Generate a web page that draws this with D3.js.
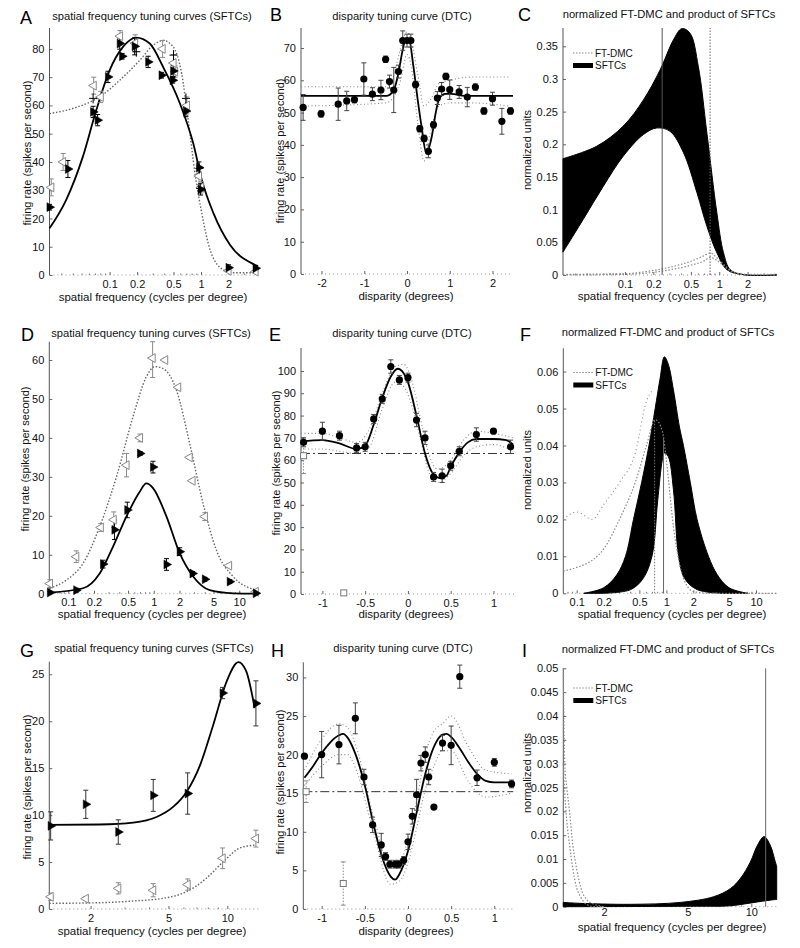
<!DOCTYPE html>
<html><head><meta charset="utf-8">
<script src="https://cdn.jsdelivr.net/npm/d3@7"></script>
<style>body{margin:0;background:#fff}</style>
</head><body><svg id="c" width="800" height="948"></svg>
<script>
// ===================== DATA =====================
// ---- Panel A ----
const aTitle = "spatial frequency tuning curves (SFTCs)";
const aXTicks = [0.1, 0.2, 0.5, 1, 2];
const aYTicks = [0, 10, 20, 30, 40, 50, 60, 70, 80];
const aFitX = [0.022, 0.0334, 0.0509, 0.0714, 0.1, 0.14, 0.196, 0.275, 0.385, 0.588, 0.823, 1.02, 1.37, 2.08, 3.92, 4.2];
const aFitY = [16.5, 26.5, 41.8, 58.3, 72.4, 80.7, 84, 81.9, 73.6, 60.7, 46.5, 33.6, 21.8, 10.6, 3.5, 3.0];
const aDotX = [0.022, 0.043, 0.0777, 0.129, 0.214, 0.3, 0.385, 0.496, 0.614, 0.725, 0.859, 1.02, 1.26, 1.76, 2.26, 3.95];
const aDotY = [57.1, 59.3, 63, 68.9, 76, 81.3, 83, 80.7, 71.3, 54.8, 35.9, 21.8, 8.8, 1.8, 0.8, 0.8];
const aFilledX = [0.022, 0.035, 0.066, 0.074, 0.096, 0.129, 0.137, 0.188, 0.264, 0.37, 0.49, 0.496, 0.684, 0.95, 0.99, 2.0, 3.95];
const aFilledY = [24, 37.5, 57.7, 54.8, 70.1, 81.9, 77.4, 80.9, 75.4, 70.7, 68.9, 72.2, 58, 38, 30.3, 2.6, 2.4];
const aFilledE = [1, 3, 2, 2, 2, 2, 1, 3, 2, 1, 1, 2, 2, 2, 2, 1, 1];
const aOpenX = [0.023, 0.031, 0.067, 0.08, 0.13, 0.19, 0.38, 0.5, 0.52, 0.7, 0.95, 1.0, 2.0, 3.95];
const aOpenY = [31, 40, 67, 63, 84.5, 82, 80, 75, 72, 60, 35, 31, 1.5, 1.2];
const aOpenE = [3, 3, 3, 2, 2, 3, 3, 3, 2, 3, 3, 2, 0.5, 0.5];
const aCrossX = [0.066, 0.196, 0.5, 0.684, 0.96, 0.98];
const aCrossY = [62.5, 79, 77.8, 62.5, 37.7, 30.6];

// ---- Panel B ----
const bTitle = "disparity tuning curve (DTC)";
const bXTicks = [-2, -1, 0, 1, 2];
const bYTicks = [0, 10, 20, 30, 40, 50, 60, 70];
const bX = [-2.43, -2.01, -1.61, -1.41, -1.23, -1.01, -0.81, -0.61, -0.5, -0.41, -0.31, -0.2, -0.1, 0, 0.09, 0.2, 0.3, 0.4, 0.5, 0.62, 0.71, 0.81, 0.91, 1.0, 1.22, 1.41, 1.6, 1.8, 2.0, 2.22, 2.42];
const bY = [51.6, 49.6, 52.6, 53.6, 54, 60.4, 55.7, 57, 66.5, 59.6, 57, 62.7, 72.3, 72.3, 72.3, 58.7, 45, 42, 38, 46.2, 54.5, 57.3, 61.2, 57.1, 56.4, 54.8, 57.9, 50.5, 54.3, 47.3, 50.5];
const bE = [4, 1, 5, 3, 1, 5, 2, 3, 1, 2, 7, 2, 3, 2, 2, 1, 1, 1, 2, 1, 2, 2, 1, 3, 2, 3, 1, 1, 2, 4, 1];
const bFitX = [-2.48, -0.47, -0.31, -0.2, -0.1, -0.03, 0.05, 0.15, 0.25, 0.34, 0.45, 0.58, 0.67, 0.76, 0.89, 1.04, 1.35, 2.48];
const bFitY = [55.2, 55.2, 57, 62.2, 69.5, 72.6, 72.4, 64.3, 54, 45.7, 37.5, 42.6, 49.8, 54.5, 55.8, 55.8, 55.2, 55.2];
const bEnvX = [-2.48, -0.5, -0.3, -0.15, 0, 0.1, 0.25, 0.4, 0.55, 0.75, 1.0, 1.5, 2.4];
const bEnvHi = [58, 58, 62, 70, 75, 72, 62, 52, 54, 59, 60, 61, 61];
const bEnvLo = [52, 53, 55, 60, 68, 64, 47, 35, 44, 52, 53, 53, 52];

// ---- Panel C ----
const cTitle = "normalized FT-DMC and product of SFTCs";
const cXTicks = [0.1, 0.2, 0.5, 1, 2];
const cYTicks = [0, 0.05, 0.1, 0.15, 0.2, 0.25, 0.3, 0.35];
const cUpX = [0.022, 0.05, 0.096, 0.157, 0.236, 0.327, 0.4, 0.49, 0.6, 0.74, 0.944, 1.11, 1.31, 1.82, 4.1];
const cUpY = [0.178, 0.197, 0.228, 0.268, 0.314, 0.36, 0.377, 0.37, 0.319, 0.217, 0.095, 0.034, 0.008, 0.0005, 0];
const cLoX = [0.022, 0.036, 0.059, 0.096, 0.157, 0.217, 0.3, 0.418, 0.58, 0.74, 0.944, 1.21, 1.82, 4.1];
const cLoY = [0.035, 0.085, 0.136, 0.182, 0.215, 0.225, 0.22, 0.187, 0.126, 0.0745, 0.034, 0.008, 0.0005, 0];
const cDmcX = [0.022, 0.1, 0.2, 0.3, 0.5, 0.7, 0.8, 0.95, 1.2, 1.5, 2, 4.1];
const cDmcHi = [0.001, 0.002, 0.007, 0.012, 0.021, 0.03, 0.034, 0.026, 0.012, 0.003, 0.001, 0.001];
const cDmcLo = [0, 0.001, 0.004, 0.008, 0.015, 0.022, 0.027, 0.022, 0.01, 0.002, 0, 0];
const cSolidV = 0.248, cDotV = 0.80;

// ---- Panel D ----
const dXTicks = [0.1, 0.2, 0.5, 1, 2, 5, 10];
const dYTicks = [0, 10, 20, 30, 40, 50, 60];
const dFitX = [0.061, 0.149, 0.233, 0.334, 0.478, 0.685, 0.82, 0.98, 1.41, 2.01, 2.89, 4.52, 8.47, 16];
const dFitY = [0.3, 1.4, 5.2, 12.1, 19.8, 26.2, 28.3, 27.1, 19.8, 10.4, 4.4, 0.9, 0.1, 0];
const dDotX = [0.061, 0.095, 0.149, 0.233, 0.366, 0.573, 0.82, 1.03, 1.29, 1.84, 2.63, 3.77, 5.4, 8.47, 16];
const dDotY = [1.4, 3.5, 7.8, 17.2, 30, 45.5, 55.7, 58.3, 57.8, 52.3, 38.6, 23.2, 11.2, 4.4, 0.9];
const dFilledX = [0.061, 0.124, 0.255, 0.347, 0.49, 0.69, 0.98, 1.41, 2.01, 2.84, 3.96, 7.74, 15.6];
const dFilledY = [0.3, 0.9, 7.6, 16.4, 21.5, 36, 32.5, 7.5, 10.8, 5.2, 3.7, 3.1, 0.1];
const dFilledE = [0.3, 0.5, 1, 2.5, 2, 0.5, 1.5, 1.5, 1, 0.5, 0.5, 0.5, 0.2];
const dOpenX = [0.061, 0.124, 0.24, 0.34, 0.48, 0.69, 0.97, 1.36, 1.93, 2.63, 2.84, 3.96, 7.6, 15.6];
const dOpenY = [2.6, 9.5, 17, 19, 33, 40, 60.5, 60, 53, 35, 29, 19.8, 7.2, 0.5];
const dOpenE = [1, 1.5, 1, 2, 3, 1, 5, 0.5, 0.5, 0.5, 0.5, 1, 0.5, 0.5];

// ---- Panel E ----
const eXTicks = [-1, -0.5, 0, 0.5, 1];
const eYTicks = [0, 10, 20, 30, 40, 50, 60, 70, 80, 90, 100];
const eX = [-1.22, -1.0, -0.8, -0.6, -0.5, -0.4, -0.3, -0.2, -0.1, 0, 0.1, 0.2, 0.3, 0.4, 0.5, 0.6, 0.8, 1.0, 1.2];
const eY = [68, 73, 71, 65.5, 66, 78.5, 87.5, 102, 96, 97, 78, 70, 52.5, 53, 57.5, 64, 71.5, 73, 66];
const eE = [2, 4, 2, 2, 2, 2, 2, 3, 2, 2, 3, 3, 2, 3, 2, 2, 3, 1, 3];
const eFitX = [-1.25, -1.0, -0.8, -0.6, -0.5, -0.4, -0.3, -0.2, -0.12, -0.05, 0, 0.1, 0.2, 0.3, 0.37, 0.45, 0.5, 0.6, 0.7, 0.8, 1.0, 1.15, 1.23];
const eFitY = [68.5, 69, 67.5, 65, 66.5, 76, 88, 97.5, 101, 99, 95, 80, 63, 53.5, 52, 53, 57, 63.5, 68, 69.5, 69.5, 69, 67];
const eEnvX = [-1.25, -1.0, -0.8, -0.6, -0.45, -0.3, -0.15, -0.05, 0.05, 0.15, 0.25, 0.35, 0.5, 0.65, 0.8, 1.0, 1.23];
const eEnvHi = [72, 72, 70, 68, 74, 90, 102, 103, 95, 78, 62, 56, 60, 69, 73, 72, 70];
const eEnvLo = [65, 65, 64, 63, 66, 83, 95, 93, 84, 69, 54, 50, 54, 62, 66, 67, 64];
const eBase = 63;
const eOpenX = [-1.22, -0.75];
const eOpenY = [62, 0.5];
const eOpenE = [8, 0];

// ---- Panel F ----
const fXTicks = [0.1, 0.2, 0.5, 1, 2, 5, 10];
const fYTicks = [0, 0.01, 0.02, 0.03, 0.04, 0.05, 0.06];
const fUpX = [0.12, 0.2, 0.28, 0.35, 0.43, 0.53, 0.64, 0.75, 0.85, 0.95, 1.05, 1.2, 1.4, 1.55, 1.85, 2.2, 2.95, 3.7, 5, 8];
const fUpY = [0, 0.0015, 0.005, 0.01, 0.02, 0.03, 0.04, 0.05, 0.058, 0.064, 0.062, 0.055, 0.045, 0.04, 0.03, 0.02, 0.01, 0.005, 0.0015, 0];
const fLoX = [0.2, 0.4, 0.55, 0.69, 0.8, 0.9, 0.95, 1.05, 1.2, 1.37, 1.6, 2.2, 4];
const fLoY = [0, 0.001, 0.004, 0.01, 0.025, 0.036, 0.038, 0.037, 0.028, 0.01, 0.004, 0.001, 0];
const fDmcX = [0.071, 0.1, 0.15, 0.2, 0.3, 0.45, 0.6, 0.75, 0.9, 1.0, 1.2, 1.4, 1.7, 2.0, 3, 17];
const fDmcY = [0.006, 0.007, 0.009, 0.012, 0.02, 0.03, 0.04, 0.047, 0.044, 0.036, 0.018, 0.008, 0.002, 0.0005, 0, 0];
const fCloudX = [0.071, 0.1, 0.15, 0.2, 0.3, 0.45, 0.6, 0.7];
const fCloudY = [0.02, 0.022, 0.02, 0.024, 0.03, 0.038, 0.052, 0.055];
const fDotV = 0.74, fSolidV = 0.93;

// ---- Panel G ----
const gXTicks = [2, 5, 10];
const gYTicks = [0, 5, 10, 15, 20, 25];
const gFitX = [1.23, 2.23, 3.3, 4.35, 5.3, 6.2, 7.25, 8.47, 9.9, 11.4, 12.5, 13.8];
const gFitY = [8.95, 9.0, 9.2, 9.8, 10.9, 12.5, 15.3, 19.6, 24.2, 26.3, 25.3, 21.4];
const gDotX = [1.23, 2.23, 3.3, 4.9, 6.2, 7.84, 9.5, 11.6, 13.8];
const gDotY = [0.6, 0.67, 0.85, 1.2, 1.85, 3.3, 5.0, 6.5, 6.8];
const gFilledX = [1.25, 1.89, 2.77, 4.18, 6.27, 9.46, 14.0];
const gFilledY = [8.85, 11.15, 8.2, 12.1, 12.3, 23, 21.9];
const gFilledE = [1.5, 1.5, 1.3, 1.7, 2.2, 0.6, 2.4];
const gOpenX = [1.25, 1.89, 2.77, 4.18, 6.27, 9.46, 14.0];
const gOpenY = [1.3, 1.1, 2.2, 2.0, 2.6, 5.4, 7.5];
const gOpenE = [0.4, 0.2, 0.6, 0.7, 0.6, 1.1, 0.9];

// ---- Panel H ----
const hXTicks = [-1, -0.5, 0, 0.5, 1];
const hYTicks = [0, 5, 10, 15, 20, 25, 30];
const hX = [-1.2, -1.0, -0.8, -0.61, -0.51, -0.41, -0.31, -0.26, -0.21, -0.15, -0.11, -0.05, 0.0, 0.05, 0.1, 0.15, 0.2, 0.24, 0.3, 0.4, 0.5, 0.6, 0.8, 1.0, 1.2];
const hY = [19.8, 20, 21.3, 24.7, 17.1, 10.9, 8.3, 6.8, 5.8, 5.8, 5.8, 6.3, 8.7, 12, 14.8, 18.9, 20, 17.1, 13.2, 21.5, 21.2, 30.1, 17, 19, 16.2];
const hE = [0, 3, 2.5, 2, 1, 1, 1.5, 0.5, 0.5, 0.5, 0.5, 0.5, 1, 1, 2, 1, 1, 1, 0, 1, 2.5, 1.5, 1, 0.5, 0.5];
const hFitX = [-1.2, -1.1, -1.0, -0.9, -0.8, -0.75, -0.7, -0.6, -0.5, -0.4, -0.3, -0.2, -0.15, -0.1, 0, 0.1, 0.2, 0.3, 0.4, 0.45, 0.5, 0.6, 0.7, 0.8, 0.9, 1.0, 1.2];
const hFitY = [17, 18.5, 20.2, 21.6, 22.5, 22.7, 22.2, 19.8, 16, 11, 6.7, 4.2, 3.8, 4.5, 7.5, 12.5, 17.5, 21, 22.6, 22.7, 22.3, 20.8, 19, 17.5, 16.6, 16.4, 16.4];
const hEnvX = [-1.2, -1.0, -0.8, -0.7, -0.6, -0.4, -0.2, -0.1, 0, 0.1, 0.2, 0.3, 0.4, 0.5, 0.7, 0.9, 1.2];
const hEnvHi = [18, 22, 24, 23.5, 21, 12, 5.5, 6, 9, 14, 20, 23, 24, 25, 21, 18, 17.5];
const hEnvLo = [16, 18.5, 20, 20, 18, 10, 3.2, 3.6, 6, 10.5, 15.5, 18.5, 20.5, 20.5, 16.5, 14.5, 15];
const hBase = 15.2;
const hOpenX = [-1.18, -0.75];
const hOpenY = [15.2, 3.3];
const hOpenE = [1.4, 2.8];

// ---- Panel I ----
const iXTicks = [2, 5, 10];
const iYTicks = [0, 0.005, 0.01, 0.015, 0.02, 0.025, 0.03, 0.035, 0.04, 0.045, 0.05];
const iUpX = [1.28, 1.55, 2.66, 4.6, 6.63, 7.96, 8.9, 9.9, 10.7, 11.5, 12.3, 13.0, 13.2];
const iUpY = [0.0009, 0.0007, 0.0005, 0.0009, 0.0021, 0.0038, 0.006, 0.0094, 0.0129, 0.0147, 0.0129, 0.0094, 0.0085];
const iLoX = [1.28, 5.5, 7.96, 10.7, 13.0, 13.2];
const iLoY = [0, 0.0001, 0.0002, 0.001, 0.0015, 0.0015];
const iDmcX = [1.28, 1.3, 1.33, 1.37, 1.42, 1.48, 1.55, 1.65, 1.8, 2.0];
const iDmcHi = [0.05, 0.03, 0.025, 0.02, 0.013, 0.008, 0.004, 0.0015, 0.0005, 0];
const iDmcLo = [0.03, 0.024, 0.018, 0.013, 0.008, 0.004, 0.002, 0.0005, 0, 0];
const iSolidV = 11.7;

// ===================== DRAWING =====================
const FONT = "'Liberation Sans', Arial, Helvetica, sans-serif";
const svg = d3.select('#c').style('font-family', FONT);
const zip = (a, b) => a.map((v, i) => [v, b[i]]);
const GRAY = '#8a8a8a';

const layout = {
  A:{l:49.5,r:258,t:28,b:275,log:true,xd:[0.022,4.2],yd:[0,87.4],xt:aXTicks,yt:aYTicks,pad:5,
     letter:[20,24],title:[152,20,aTitle],xl:[153,301,"spatial frequency (cycles per degree)"],yl:[27,153,"firing rate (spikes per second)"]},
  B:{l:301,r:513,t:28,b:274,log:false,xd:[-2.48,2.48],yd:[0,76.2],xt:bXTicks,yt:bYTicks,pad:5,
     letter:[270,21],title:[402,20,bTitle],xl:[406,300,"disparity (degrees)"],yl:[280,151,"firing rate (spikes per second)"]},
  C:{l:563,r:777,t:28,b:275,log:true,xd:[0.022,4.1],yd:[0,0.378],xt:cXTicks,yt:cYTicks,pad:5,
     letter:[518,21],title:[669,18,cTitle],xl:[672,300,"spatial frequency (cycles per degree)"],yl:[527,150,"normalized units"]},
  D:{l:49.3,r:256.7,t:341.7,b:593.7,log:true,xd:[0.06,16],yd:[0,64.7],xt:dXTicks,yt:dYTicks,pad:5,
     letter:[21,341],title:[151,337,aTitle],xl:[152,618,"spatial frequency (cycles per degree)"],yl:[25,459,"firing rate (spikes per second)"]},
  E:{l:301,r:514,t:348,b:594,log:false,xd:[-1.25,1.24],yd:[0,110.3],xt:eXTicks,yt:eYTicks,pad:5,
     letter:[269,341],title:[402,337,bTitle],xl:[406,618,"disparity (degrees)"],yl:[276,463,"firing rate (spikes per second)"]},
  F:{l:563.3,r:776.7,t:348.3,b:593.3,log:true,xd:[0.0709,17],yd:[0,0.0663],xt:fXTicks,yt:fYTicks,pad:5,
     letter:[520,341],title:[668,336,cTitle],xl:[672,618,"spatial frequency (cycles per degree)"],yl:[527,470,"normalized units"]},
  G:{l:49.3,r:258.3,t:661.7,b:909,log:true,xd:[1.23,14.4],yd:[0,26.34],xt:gXTicks,yt:gYTicks,pad:5,
     letter:[20,657],title:[154,652,aTitle],xl:[152,935,"spatial frequency (cycles per degree)"],yl:[27,787,"firing rate (spikes per second)"]},
  H:{l:303.3,r:513.3,t:662.3,b:909,log:false,xd:[-1.213,1.22],yd:[0,31.96],xt:hXTicks,yt:hYTicks,pad:5,
     letter:[271,657],title:[403,652,bTitle],xl:[406,935,"disparity (degrees)"],yl:[280,782,"firing rate (spikes per second)"]},
  I:{l:563.3,r:776.7,t:668.3,b:906.7,log:true,xd:[1.28,13.2],yd:[0,0.05],xt:iXTicks,yt:iYTicks,pad:1,
     letter:[522,657],title:[668,653,cTitle],xl:[672,931,"spatial frequency (cycles per degree)"],yl:[527,773,"normalized units"]}
};

function setup(key){
  const p = layout[key];
  const g = svg.append('g');
  const x = (p.log ? d3.scaleLog() : d3.scaleLinear()).domain(p.xd).range([p.l, p.r]);
  const y = d3.scaleLinear().domain(p.yd).range([p.b, p.t]);
  g.append('line').attr('x1',p.l).attr('x2',p.r).attr('y1',p.b).attr('y2',p.b)
    .attr('stroke','#999').attr('stroke-width',1).attr('stroke-dasharray','1,3');
  const yg = g.append('g').attr('transform',`translate(${p.l},0)`)
    .call(d3.axisLeft(y).tickValues(p.yt).tickSize(-3).tickPadding(5).tickFormat(d=>String(d)));
  yg.select('.domain').remove();
  yg.selectAll('.tick line').attr('stroke','#666');
  yg.selectAll('text').attr('font-size',11).attr('fill','#111').attr('font-family',FONT);
  g.append('line').attr('x1',p.l).attr('x2',p.l).attr('y1',p.t).attr('y2',p.b).attr('stroke','#555').attr('stroke-width',1);
  const xg = g.append('g').attr('transform',`translate(0,${p.b})`)
    .call(d3.axisBottom(x).tickValues(p.xt).tickSize(-3).tickPadding(p.pad).tickFormat(d=>String(d)));
  xg.select('.domain').remove();
  xg.selectAll('.tick line').attr('stroke','#666');
  xg.selectAll('text').attr('font-size',11).attr('fill','#111').attr('font-family',FONT);
  if (p.log){
    const minor = x.ticks().filter(v => p.xt.indexOf(v) < 0);
    g.selectAll(null).data(minor).enter().append('line')
      .attr('x1',d=>x(d)).attr('x2',d=>x(d)).attr('y1',p.b).attr('y2',p.b-1.5)
      .attr('stroke','#777').attr('stroke-width',1);
  }
  svg.append('text').attr('x',p.letter[0]).attr('y',p.letter[1]).attr('font-size',18).attr('fill','#000').text(key);
  svg.append('text').attr('x',p.title[0]).attr('y',p.title[1]).attr('font-size',11.2).attr('text-anchor','middle').attr('fill','#111').text(p.title[2]);
  svg.append('text').attr('x',p.xl[0]).attr('y',p.xl[1]).attr('font-size',11.5).attr('text-anchor','middle').attr('fill','#111').text(p.xl[2]);
  svg.append('text').attr('transform',`translate(${p.yl[0]},${p.yl[1]}) rotate(-90)`).attr('font-size',11)
    .attr('text-anchor','middle').attr('dy','0.35em').attr('fill','#111').text(p.yl[2]);
  return {g, x, y, p};
}

function curve(P, xs, ys, opt){
  const ln = d3.line().x(d=>P.x(d[0])).y(d=>P.y(d[1])).curve(opt.curve || d3.curveMonotoneX);
  P.g.append('path').attr('d', ln(zip(xs, ys))).attr('fill','none')
    .attr('stroke', opt.color || '#000').attr('stroke-width', opt.w || 1.8)
    .attr('stroke-dasharray', opt.dash || null).attr('stroke-linejoin','round');
}
function band(P, ux, uy, lx, ly){
  const ln = d3.line().x(d=>P.x(d[0])).y(d=>P.y(d[1])).curve(d3.curveCatmullRom.alpha(0.5));
  const up = ln(zip(ux, uy));
  const lo = ln(zip(lx, ly).reverse());
  P.g.append('path').attr('d', up + 'L' + lo.slice(1) + 'Z').attr('fill','#000').attr('stroke','#000').attr('stroke-width',1);
}
function errbars(P, xs, ys, es, color, dash){
  xs.forEach((xv, i) => {
    if (!es[i]) return;
    const cx = P.x(xv), y1 = P.y(Math.max(P.p.yd[0], ys[i]-es[i])), y2 = P.y(Math.min(P.p.yd[1], ys[i]+es[i]));
    P.g.append('line').attr('x1',cx).attr('x2',cx).attr('y1',y1).attr('y2',y2)
      .attr('stroke',color).attr('stroke-width',1).attr('stroke-dasharray',dash||null);
    [y1, y2].forEach(yy => P.g.append('line').attr('x1',cx-2.5).attr('x2',cx+2.5).attr('y1',yy).attr('y2',yy)
      .attr('stroke',color).attr('stroke-width',1));
  });
}
const tri = d3.symbol().type(d3.symbolTriangle).size(34);
function triangles(P, xs, ys, filled){
  P.g.selectAll(null).data(zip(xs, ys)).enter().append('path').attr('d', tri())
    .attr('transform', d => `translate(${P.x(d[0])},${P.y(d[1])}) rotate(${filled ? 90 : -90})`)
    .attr('fill', filled ? '#000' : '#fff').attr('stroke', filled ? '#000' : GRAY).attr('stroke-width', filled ? 0.5 : 1);
}
function squares(P, xs, ys){
  P.g.selectAll(null).data(zip(xs, ys)).enter().append('rect')
    .attr('x', d=>P.x(d[0])-3).attr('y', d=>P.y(d[1])-3).attr('width',6).attr('height',6)
    .attr('fill','#fff').attr('stroke','#777').attr('stroke-width',1);
}
function dots(P, xs, ys){
  P.g.selectAll(null).data(zip(xs, ys)).enter().append('circle')
    .attr('cx', d=>P.x(d[0])).attr('cy', d=>P.y(d[1])).attr('r', 3.6).attr('fill','#000');
}
function crosses(P, xs, ys){
  zip(xs, ys).forEach(d => {
    const cx = P.x(d[0]), cy = P.y(d[1]);
    P.g.append('path').attr('d', `M${cx-4},${cy}H${cx+4}M${cx},${cy-5}V${cy+5}`).attr('stroke','#000').attr('stroke-width',1);
  });
}
function hline(P, yv, dash, color){
  P.g.append('line').attr('x1',P.p.l).attr('x2',P.p.r).attr('y1',P.y(yv)).attr('y2',P.y(yv))
    .attr('stroke',color||'#333').attr('stroke-width',1).attr('stroke-dasharray',dash);
}
function vline(P, xv, ytop, dash, color){
  P.g.append('line').attr('x1',P.x(xv)).attr('x2',P.x(xv)).attr('y1',P.p.b).attr('y2',P.y(ytop))
    .attr('stroke',color||'#555').attr('stroke-width',1).attr('stroke-dasharray',dash||null);
}
function legend(P, yTop){
  const x0 = P.p.l + 10;
  P.g.append('line').attr('x1',x0).attr('x2',x0+20).attr('y1',yTop).attr('y2',yTop)
    .attr('stroke',GRAY).attr('stroke-width',1.2).attr('stroke-dasharray','1.5,1.5');
  P.g.append('text').attr('x',x0+22).attr('y',yTop+3.5).attr('font-size',10).attr('fill','#111').text('FT-DMC');
  P.g.append('line').attr('x1',x0).attr('x2',x0+20).attr('y1',yTop+12.5).attr('y2',yTop+12.5)
    .attr('stroke','#000').attr('stroke-width',5);
  P.g.append('text').attr('x',x0+22).attr('y',yTop+16).attr('font-size',10).attr('fill','#111').text('SFTCs');
}
const DOT = '1.5,1.8';

// ---- A ----
{ const P = setup('A');
  curve(P, aDotX, aDotY, {color:'#666', w:1.4, dash:DOT});
  curve(P, aFitX, aFitY, {w:1.8});
  errbars(P, aOpenX, aOpenY, aOpenE, GRAY);
  errbars(P, aFilledX, aFilledY, aFilledE, '#000');
  triangles(P, aOpenX, aOpenY, false);
  triangles(P, aFilledX, aFilledY, true);
  crosses(P, aCrossX, aCrossY);
}
// ---- B ----
{ const P = setup('B');
  curve(P, bEnvX, bEnvHi, {color:GRAY, w:1.1, dash:'1,2.5'});
  curve(P, bEnvX, bEnvLo, {color:GRAY, w:1.1, dash:'1,2.5'});
  curve(P, bFitX, bFitY, {w:1.8});
  errbars(P, bX, bY, bE, '#444');
  dots(P, bX, bY);
}
// ---- C ----
{ const P = setup('C');
  band(P, cUpX, cUpY, cLoX, cLoY);
  curve(P, cDmcX, cDmcHi, {color:GRAY, w:1.2, dash:DOT});
  curve(P, cDmcX, cDmcLo, {color:GRAY, w:1.2, dash:DOT});
  vline(P, cSolidV, layout.C.yd[1], null, '#555');
  vline(P, cDotV, layout.C.yd[1], '1.5,1.5', '#666');
  legend(P, 53);
}
// ---- D ----
{ const P = setup('D');
  curve(P, dDotX, dDotY, {color:'#666', w:1.4, dash:DOT});
  curve(P, dFitX, dFitY, {w:1.8});
  errbars(P, dOpenX, dOpenY, dOpenE, GRAY);
  errbars(P, dFilledX, dFilledY, dFilledE, '#000');
  triangles(P, dOpenX, dOpenY, false);
  triangles(P, dFilledX, dFilledY, true);
}
// ---- E ----
{ const P = setup('E');
  curve(P, eEnvX, eEnvHi, {color:GRAY, w:1.1, dash:'1,2.5'});
  curve(P, eEnvX, eEnvLo, {color:GRAY, w:1.1, dash:'1,2.5'});
  hline(P, eBase, '9,3,2,3', '#333');
  curve(P, eFitX, eFitY, {w:1.8});
  errbars(P, eOpenX, eOpenY, eOpenE, GRAY, '1.5,1.5');
  squares(P, eOpenX, eOpenY);
  errbars(P, eX, eY, eE, '#444');
  dots(P, eX, eY);
}
// ---- F ----
{ const P = setup('F');
  curve(P, fCloudX, fCloudY, {color:GRAY, w:1.1, dash:'1,3'});
  band(P, fUpX, fUpY, fLoX, fLoY);
  curve(P, fDmcX, fDmcY, {color:GRAY, w:1.2, dash:DOT});
  vline(P, fDotV, 0.047, '1.5,1.5', '#777');
  vline(P, fSolidV, 0.042, null, '#666');
  legend(P, 372.5);
}
// ---- G ----
{ const P = setup('G');
  curve(P, gDotX, gDotY, {color:'#666', w:1.4, dash:DOT});
  curve(P, gFitX, gFitY, {w:1.8});
  errbars(P, gOpenX, gOpenY, gOpenE, GRAY);
  errbars(P, gFilledX, gFilledY, gFilledE, '#333');
  triangles(P, gOpenX, gOpenY, false);
  triangles(P, gFilledX, gFilledY, true);
}
// ---- H ----
{ const P = setup('H');
  curve(P, hEnvX, hEnvHi, {color:GRAY, w:1.1, dash:'1,2.5'});
  curve(P, hEnvX, hEnvLo, {color:GRAY, w:1.1, dash:'1,2.5'});
  hline(P, hBase, '9,3,2,3', '#333');
  curve(P, hFitX, hFitY, {w:1.8});
  errbars(P, hOpenX, hOpenY, hOpenE, GRAY, '1.5,1.5');
  squares(P, hOpenX, hOpenY);
  errbars(P, hX, hY, hE, '#444');
  dots(P, hX, hY);
}
// ---- I ----
{ const P = setup('I');
  band(P, iUpX, iUpY, iLoX, iLoY);
  curve(P, iDmcX, iDmcHi, {color:GRAY, w:1.2, dash:DOT});
  curve(P, iDmcX, iDmcLo, {color:GRAY, w:1.2, dash:DOT});
  vline(P, iSolidV, 0.05, null, '#666');
  legend(P, 688);
}
</script>
</body></html>
